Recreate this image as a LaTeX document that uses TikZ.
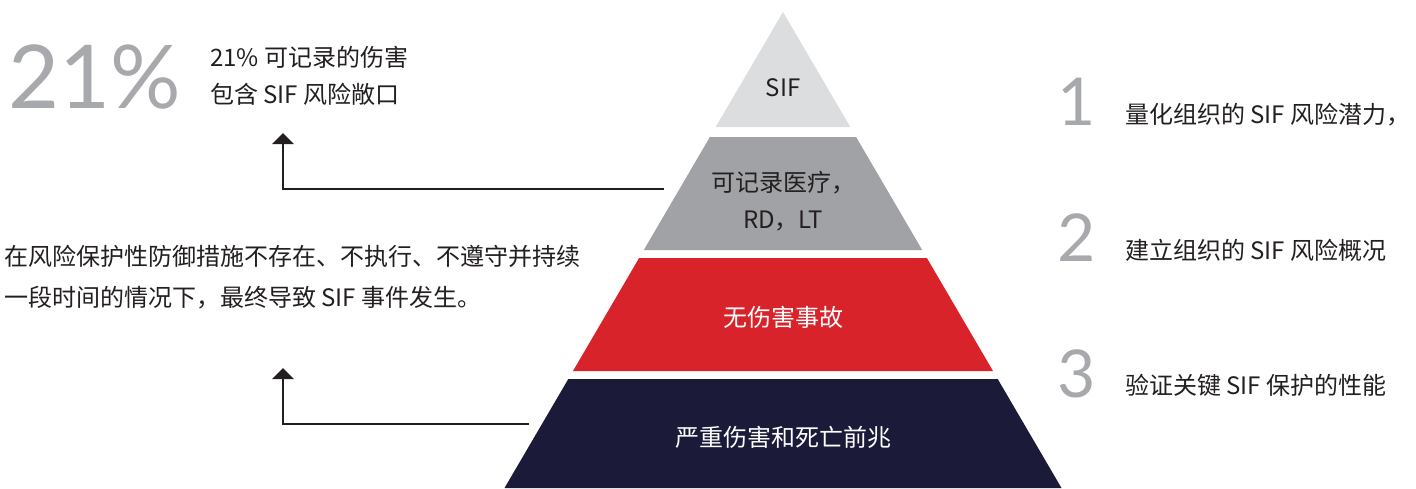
\documentclass[tikz,border=0pt]{standalone}
\usepackage{fontspec}
\setmainfont{Noto Sans CJK SC}
\newfontfamily\thinfont{Lato}
\usetikzlibrary{arrows.meta}
\definecolor{txt}{HTML}{231F20}
\definecolor{biggray}{HTML}{A7A9AC}
\definecolor{tierA}{HTML}{DCDDDF}
\definecolor{tierB}{HTML}{A1A2A6}
\definecolor{tierC}{HTML}{D9232A}
\definecolor{tierD}{HTML}{1B1A39}
\tikzset{
  lbl/.style={inner sep=0pt, text=txt, font=\fontsize{24}{37}\selectfont},
  wlbl/.style={inner sep=0pt, text=white, font=\fontsize{24}{37}\selectfont},
  bignum/.style={inner sep=0pt, text=biggray, font=\thinfont\fontsize{88}{88}\selectfont},
  midnum/.style={inner sep=0pt, text=biggray, font=\thinfont\fontsize{66}{66}\selectfont},
  arr/.style={draw=txt, line width=2.5pt, -{Triangle[width=21pt,length=11pt]}}
}
\begin{document}
\begin{tikzpicture}[x=1pt,y=-1pt]
\useasboundingbox (0,0) rectangle (1416,488);
% pyramid tiers
\fill[tierA] (783,12) -- (850.3,127) -- (715.7,127) -- cycle;
\fill[tierB] (709.9,137) -- (856.1,137) -- (922.2,250) -- (643.8,250) -- cycle;
\fill[tierC] (639.1,258) -- (926.9,258) -- (993,371) -- (573,371) -- cycle;
\fill[tierD] (568.3,379) -- (997.7,379) -- (1061.5,488) -- (504.5,488) -- cycle;
% tier labels
\node[lbl] (sif) at (783,88) {SIF};
\node[lbl, align=center] (rec) at (783,201.5) {可记录医疗，\\RD，LT};
\node[wlbl] (nohurt) at (783,317) {无伤害事故};
\node[wlbl] (prec) at (783,437) {严重伤害和死亡前兆};
% left texts
\node[bignum, anchor=west] (pct) at (8,76.5) {21\%};
\node[lbl, anchor=west, align=left] (pcttxt) at (210,75.5) {21\% 可记录的伤害\\包含 SIF 风险敞口};
\node[lbl, anchor=west, align=left] (para) at (4,277.5) {在风险保护性防御措施不存在、不执行、不遵守并持续\\[4pt]一段时间的情况下，最终导致 SIF 事件发生。};
% right list
\node[midnum] (n1) at (1077,101.5) {1};
\node[midnum] (n2) at (1077,238) {2};
\node[midnum] (n3) at (1077,373.5) {3};
\node[lbl, anchor=west] (t1) at (1125,115) {量化组织的 SIF 风险潜力，};
\node[lbl, anchor=west] (t2) at (1125,250) {建立组织的 SIF 风险概况};
\node[lbl, anchor=west] (t3) at (1125,385) {验证关键 SIF 保护的性能};
% connectors
\coordinate (a1s) at (664,189);
\coordinate (a1t) at (283,133);
\coordinate (a2s) at (529,424);
\coordinate (a2t) at (283,368);
\draw[arr] (a1s) -| (a1t);
\draw[arr] (a2s) -| (a2t);
\end{tikzpicture}
\end{document}
